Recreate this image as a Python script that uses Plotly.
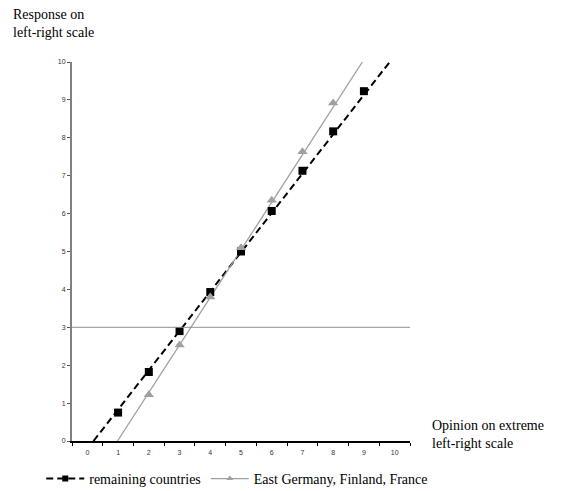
import plotly.graph_objects as go

# Data
categories = list(range(0, 11))
rem_x = [1, 2, 3, 4, 5, 6, 7, 8, 9]
rem_y = [0.75, 1.82, 2.90, 3.93, 5.00, 6.07, 7.13, 8.17, 9.23]
efg_x = [2, 3, 4, 5, 6, 7, 8]
efg_y = [1.22, 2.53, 3.80, 5.10, 6.35, 7.63, 8.92]
# fitted trend lines (endpoints)
rem_fit_x = [0.2, 9.84]
rem_fit_y = [0, 10]
efg_fit_x = [0.98, 8.95]
efg_fit_y = [0, 10]
ref_level = 3
y_ticks = list(range(0, 11))

fig = go.Figure()

fig.add_trace(go.Scatter(x=rem_fit_x, y=rem_fit_y, mode="lines",
                         line=dict(color="black", width=2, dash="7px,4px"),
                         showlegend=False, hoverinfo="skip"))
fig.add_trace(go.Scatter(x=efg_fit_x, y=efg_fit_y, mode="lines",
                         line=dict(color="#a0a0a0", width=1.3),
                         showlegend=False, hoverinfo="skip"))
fig.add_trace(go.Scatter(x=rem_x, y=rem_y, mode="markers",
                         marker=dict(symbol="square", size=8, color="black"),
                         showlegend=False))
fig.add_trace(go.Scatter(x=efg_x, y=efg_y, mode="markers",
                         marker=dict(symbol="triangle-up", size=9, color="#a0a0a0"),
                         showlegend=False))
# legend entries
fig.add_trace(go.Scatter(x=[None], y=[None], mode="lines+markers",
                         name="remaining countries",
                         line=dict(color="black", width=2, dash="7px,4px"),
                         marker=dict(symbol="square", size=6, color="black")))
fig.add_trace(go.Scatter(x=[None], y=[None], mode="lines+markers",
                         name="East Germany, Finland, France",
                         line=dict(color="#a0a0a0", width=1.3),
                         marker=dict(symbol="triangle-up", size=6, color="#a0a0a0")))

# horizontal reference line
fig.add_shape(type="line", xref="x", yref="y", x0=-0.5, x1=10.5,
              y0=ref_level, y1=ref_level, line=dict(color="#909090", width=1))

# x labels axis (overlaying)
fig.add_trace(go.Scatter(x=[None], y=[None], xaxis="x2", showlegend=False))

tickfont = dict(family="Liberation Sans, Arial", size=7, color="#333")

fig.update_layout(
    width=576, height=491,
    margin=dict(l=72, r=166, t=62, b=50, autoexpand=False),
    paper_bgcolor="white", plot_bgcolor="white",
    xaxis=dict(range=[-0.5, 10.5], tickvals=[k - 0.5 for k in range(12)],
               showticklabels=False, ticks="outside", ticklen=3, tickcolor="black",
               showline=True, linecolor="black", linewidth=1.5,
               showgrid=False, zeroline=False),
    xaxis2=dict(range=[-0.5, 10.5], overlaying="x", tickvals=categories,
                ticktext=[str(c) for c in categories], ticks="", side="bottom",
                tickfont=tickfont, showgrid=False, zeroline=False, showline=False,
                ticklabelstandoff=6),
    yaxis=dict(range=[0, 10], tickvals=y_ticks, ticks="outside", ticklen=3,
               tickcolor="#555", tickfont=tickfont,
               showline=True, linecolor="#808080", linewidth=2,
               showgrid=False, zeroline=False),
    legend=dict(orientation="h", x=-0.091, y=-0.058, xanchor="left", yanchor="top",
                font=dict(family="Liberation Serif, Times New Roman", size=14, color="black"),
                itemwidth=38, bgcolor="rgba(0,0,0,0)"),
    font=dict(family="Liberation Serif, Times New Roman", color="black"),
)

fig.add_annotation(text="Response on<br>left-right scale", xref="paper", yref="paper",
                   x=-0.18, y=1.15, xanchor="left", yanchor="top", showarrow=False,
                   align="left", font=dict(family="Liberation Serif, Times New Roman", size=14))
fig.add_annotation(text="Opinion on extreme<br>left-right scale", xref="paper", yref="paper",
                   x=1.06, y=0.067, xanchor="left", yanchor="top", showarrow=False,
                   align="left", font=dict(family="Liberation Serif, Times New Roman", size=14))

fig.write_html("out.html", config={"displayModeBar": False},
               post_script="document.body.style.margin='0';document.body.style.overflow='hidden';")
